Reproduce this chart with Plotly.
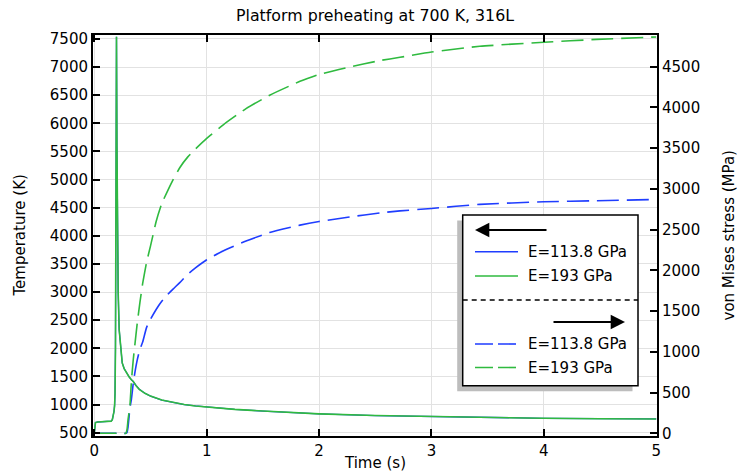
import plotly.graph_objects as go

# Temperature history at the probe point (same for both Young's moduli)
time_T = [0, 0.004, 0.01, 0.03, 0.08, 0.12, 0.14, 0.15, 0.16, 0.168, 0.175, 0.18, 0.184,
          0.188, 0.191, 0.194, 0.197, 0.201, 0.206, 0.212, 0.221, 0.235, 0.248, 0.265,
          0.287, 0.31, 0.33, 0.346, 0.37, 0.40, 0.45, 0.5, 0.6, 0.7, 0.8, 0.9, 1.0,
          1.25, 1.5, 1.75, 2.0, 2.5, 3.0, 3.5, 4.0, 4.5, 5.0]
temp_K = [500, 600, 680, 690, 693, 697, 700, 705, 730, 790, 880, 980, 1200,
          2000, 4100, 6000, 7540, 5600, 4100, 3000, 2330, 1950, 1740, 1640,
          1560, 1490, 1440, 1410, 1340, 1270, 1200, 1150, 1080, 1035, 1000, 975, 955,
          915, 885, 858, 835, 805, 785, 768, 756, 749, 744]

# von Mises stress histories
time_S = [0, 0.1, 0.2, 0.28, 0.29, 0.30, 0.316, 0.33, 0.346, 0.36, 0.38, 0.405, 0.43,
          0.465, 0.5, 0.55, 0.6, 0.65, 0.7, 0.76, 0.83, 0.9, 1.0, 1.15, 1.35, 1.56,
          1.83, 2.0, 2.27, 2.54, 2.72, 3.0, 3.43, 4.0, 4.47, 5.0]
stress_193 = [0, 0, 0, 0, 40, 170, 330, 640, 900, 1080, 1330, 1600, 1840,
              2100, 2300, 2600, 2820, 2970, 3110, 3260, 3390, 3490, 3620, 3790, 3985, 4150,
              4320, 4405, 4495, 4575, 4615, 4680, 4750, 4800, 4835, 4865]
stress_1138 = [0, 0, 0, 0, 10, 80, 300, 420, 610, 740, 890, 1030, 1120,
               1300, 1400, 1520, 1620, 1700, 1770, 1850, 1950, 2030, 2130, 2240, 2360, 2465,
               2555, 2600, 2655, 2705, 2730, 2760, 2810, 2842, 2855, 2870]

label_1138 = "E=113.8 GPa"
label_193 = "E=193 GPa"
blue = "#1f3dff"
green = "#2fba3f"

W, H = 737, 475
ML, MR, MT, MB = 93, 80, 35, 39
PW, PH = W - ML - MR, H - MT - MB


def px(x):
    return (x - ML) / PW


def py(y):
    return (H - MB - y) / PH


fig = go.Figure()
fig.add_trace(go.Scatter(x=time_T, y=temp_K, name=label_1138, mode="lines",
                         line=dict(color=blue, width=1.3)))
fig.add_trace(go.Scatter(x=time_T, y=temp_K, name=label_193, mode="lines",
                         line=dict(color=green, width=1.6)))
fig.add_trace(go.Scatter(x=time_S, y=stress_1138, name=label_1138, mode="lines", yaxis="y2",
                         line=dict(color=blue, width=1.6, dash="22px,8px",
                                   shape="spline", smoothing=0.5)))
fig.add_trace(go.Scatter(x=time_S, y=stress_193, name=label_193, mode="lines", yaxis="y2",
                         line=dict(color=green, width=1.6, dash="22px,8px",
                                   shape="spline", smoothing=0.5)))

axis_common = dict(ticks="inside", ticklen=7, tickwidth=1.5, tickcolor="black",
                   showline=True, linecolor="black", linewidth=2, zeroline=False)

fig.update_layout(
    width=W, height=H,
    margin=dict(l=ML, r=MR, t=MT, b=MB),
    plot_bgcolor="white", paper_bgcolor="white",
    showlegend=False,
    font=dict(family="DejaVu Sans", size=15, color="black"),
    title=dict(text="Platform preheating at 700 K, 316L", x=0.5, xref="paper",
               y=1 - 15 / H, yref="container", yanchor="middle", xanchor="center",
               font=dict(size=15.8)),
    xaxis=dict(range=[-0.012, 5.007], tickvals=[0, 1, 2, 3, 4, 5], mirror="ticks",
               showgrid=True, gridcolor="#e2e2e2", gridwidth=1, **axis_common),
    yaxis=dict(range=[441, 7571], tick0=500, dtick=500, showgrid=True,
               gridcolor="#e2e2e2", gridwidth=1, **axis_common),
    yaxis2=dict(range=[-33, 4889], tick0=0, dtick=500, overlaying="y", side="right",
                showgrid=False, **axis_common),
)

annotations = [
    dict(text="Temperature (K)", x=px(19), y=0.5, xref="paper", yref="paper",
         textangle=-90, showarrow=False, xanchor="center", yanchor="middle"),
    dict(text="von Mises stress (MPa)", x=px(728), y=0.5, xref="paper", yref="paper",
         textangle=-90, showarrow=False, xanchor="center", yanchor="middle"),
    dict(text="Time (s)", x=0.5, y=py(463), xref="paper", yref="paper",
         showarrow=False, xanchor="center", yanchor="middle"),
]

# Legend box with axis arrows
bx0, bx1, by0, by1 = 462.7, 638, 215, 385.7
shapes = [
    dict(type="rect", xref="paper", yref="paper", x0=px(bx0 - 5.5), x1=px(bx1 - 5.5),
         y0=py(by0 + 5.5), y1=py(by1 + 5.5), fillcolor="#bdbdbd", line=dict(width=0)),
    dict(type="rect", xref="paper", yref="paper", x0=px(bx0), x1=px(bx1),
         y0=py(by0), y1=py(by1), fillcolor="white", line=dict(color="black", width=1.5)),
    dict(type="line", xref="paper", yref="paper", x0=px(bx0), x1=px(bx1),
         y0=py(300), y1=py(300), line=dict(color="black", width=1.3, dash="5px,4px")),
]
entries = [(251.7, blue, "solid", label_1138), (276, green, "solid", label_193),
           (344, blue, "18px,5px", label_1138), (367.5, green, "18px,5px", label_193)]
for yy, col, dash, lab in entries:
    shapes.append(dict(type="line", xref="paper", yref="paper", x0=px(475), x1=px(518),
                       y0=py(yy), y1=py(yy), line=dict(color=col, width=1.6, dash=dash)))
    annotations.append(dict(text=lab, x=px(526), y=py(yy), xref="paper", yref="paper",
                            showarrow=False, xanchor="left", yanchor="middle"))

annotations.append(dict(text="", x=px(475), y=py(230), xref="paper", yref="paper",
                        showarrow=True, ax=73, ay=0, arrowhead=2, arrowsize=1.3,
                        arrowwidth=2.2, arrowcolor="black"))
annotations.append(dict(text="", x=px(625), y=py(322), xref="paper", yref="paper",
                        showarrow=True, ax=-73, ay=0, arrowhead=2, arrowsize=1.3,
                        arrowwidth=2.2, arrowcolor="black"))

fig.update_layout(shapes=shapes, annotations=annotations)
fig.write_html("out.html")
